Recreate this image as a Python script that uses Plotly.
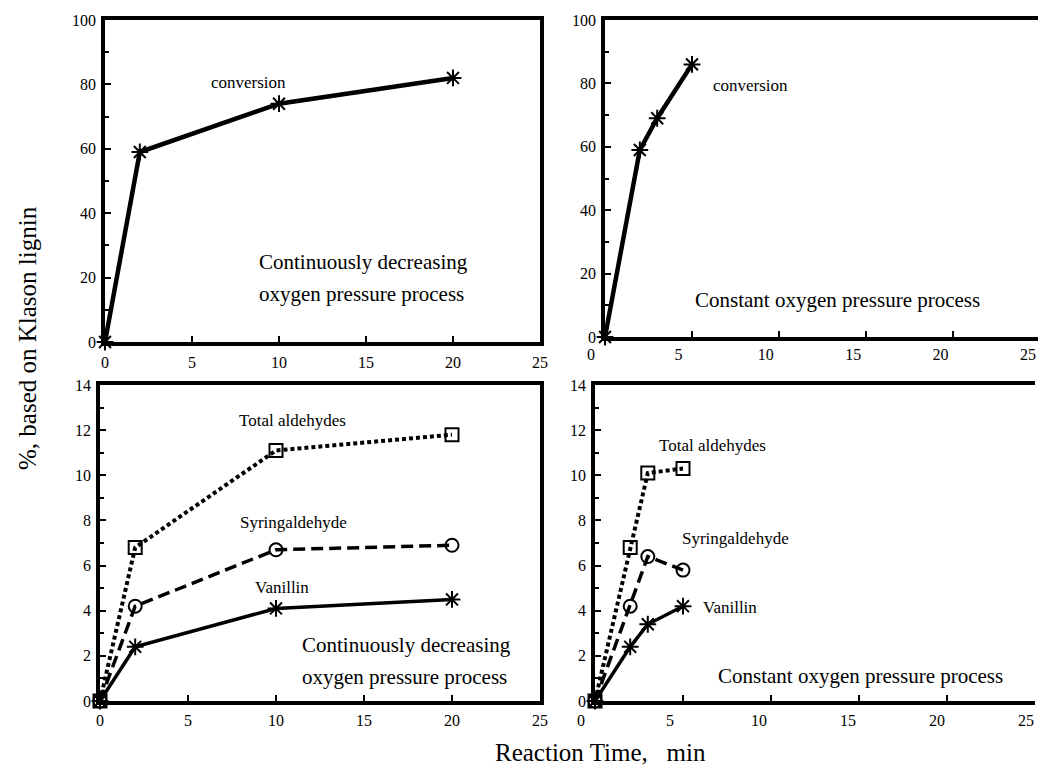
import plotly.graph_objects as go

# ---------------- data ----------------
time_cont = [0, 2, 10, 20]
conv_cont = [0, 59, 74, 82]
time_const = [0, 2, 3, 5]
conv_const = [0, 59, 69, 86]

total_cont = [0, 6.8, 11.1, 11.8]
syring_cont = [0, 4.2, 6.7, 6.9]
vanil_cont = [0, 2.4, 4.1, 4.5]

total_const = [0, 6.8, 10.1, 10.3]
syring_const = [0, 4.2, 6.4, 5.8]
vanil_const = [0, 2.4, 3.4, 4.2]

x_ticks = [0, 5, 10, 15, 20, 25]
y_ticks_top = [0, 20, 40, 60, 80, 100]
y_ticks_bot = [0, 2, 4, 6, 8, 10, 12, 14]

# ---------------- layout helpers ----------------
W, H = 1038, 779
FONT = "Liberation Serif"
BLACK = "black"


def fx(p):
    return min(max(p / W, 0.0), 1.0)


def fy(p):
    return min(max(1 - p / H, 0.0), 1.0)


def px_x(a, b):
    return [fx(a), fx(b)]


def px_y(top, bottom):
    return [fy(bottom), fy(top)]


fig = go.Figure()


def add_line(x, y, xa, ya, dash, symbol, width=3.5, msize=13, mline=2):
    fig.add_trace(go.Scatter(
        x=x, y=y, xaxis=xa, yaxis=ya, mode="lines+markers",
        line=dict(color=BLACK, width=width, dash=dash),
        marker=dict(symbol=symbol, size=msize, color=BLACK,
                    line=dict(color=BLACK, width=mline)),
        cliponaxis=False, showlegend=False, hoverinfo="skip"))


DOT = "4px,3px"
DASH = "12px,6px"

# top-left
add_line(time_cont, conv_cont, "x", "y", "solid", "asterisk-open", width=4.5, msize=14)
# top-right
add_line(time_const, conv_const, "x2", "y2", "solid", "asterisk-open", width=4.5, msize=14)
# bottom-left
add_line(time_cont, vanil_cont, "x3", "y3", "solid", "asterisk-open", msize=14)
add_line(time_cont, syring_cont, "x3", "y3", DASH, "circle-open", msize=13)
add_line(time_cont, total_cont, "x3", "y3", DOT, "square-open", width=4, msize=13)
# bottom-right
add_line(time_const, vanil_const, "x4", "y4", "solid", "asterisk-open", msize=14)
add_line(time_const, syring_const, "x4", "y4", DASH, "circle-open", msize=13)
add_line(time_const, total_const, "x4", "y4", DOT, "square-open", width=4, msize=13)

# empty traces that carry the (slightly offset) tick-label axes of the right panels
fig.add_trace(go.Scatter(x=[], y=[], xaxis="x5", yaxis="y2", showlegend=False))
fig.add_trace(go.Scatter(x=[], y=[], xaxis="x6", yaxis="y4", showlegend=False))

tickfont = dict(family=FONT, size=16, color=BLACK)


def xaxis(a, b, anchor, labels=True, mirror=True, standoff=3):
    # x=0 sits at page pixel a, x=25 at page pixel b (the domain is cut at the page edge)
    end = min(b, W)
    rng_max = 25 * (end - a) / (b - a)
    return dict(domain=px_x(a, end), anchor=anchor, range=[0, rng_max], tickvals=x_ticks,
                showticklabels=labels, ticks="inside", ticklen=6, tickwidth=1.5,
                tickcolor=BLACK, showline=True, linewidth=3.5, linecolor=BLACK,
                mirror=mirror, showgrid=False, zeroline=False, tickfont=tickfont,
                ticklabelstandoff=standoff, automargin=False, fixedrange=True)


def yaxis(domain, anchor, rng, ticks, minor_step, mirror=True):
    return dict(domain=domain, anchor=anchor, range=rng, tickvals=ticks,
                ticks="inside", ticklen=6, tickwidth=1.5, tickcolor=BLACK,
                minor=dict(dtick=minor_step, ticks="inside", ticklen=4,
                           tickcolor=BLACK, tickwidth=1.5, showgrid=False),
                showline=True, linewidth=3.5, linecolor=BLACK, mirror=mirror,
                showgrid=False, zeroline=False, tickfont=tickfont,
                ticklabelstandoff=2, automargin=False, fixedrange=True)


def label_axis(a, b, anchor, standoff):
    return dict(domain=px_x(a, b), anchor=anchor, range=[0, 25],
                tickvals=x_ticks, showline=False, ticks="", showgrid=False,
                zeroline=False, tickfont=tickfont, fixedrange=True,
                ticklabelstandoff=standoff, ticklabeloverflow="allow",
                automargin=False)


fig.update_layout(
    template="none",
    width=W, height=H, autosize=False,
    margin=dict(l=0, r=0, t=0, b=0, pad=0),
    paper_bgcolor="white", plot_bgcolor="rgba(0,0,0,0)",
    font=dict(family=FONT, color=BLACK),
    xaxis=xaxis(105, 540, "y"),
    yaxis=yaxis(px_y(20, 342), "x", [0, 100], y_ticks_top, 10),
    xaxis2=xaxis(605, 1040, "y2", labels=False),
    yaxis2=yaxis(px_y(20, 337), "x2", [0, 100], y_ticks_top, 10, mirror=False),
    xaxis3=xaxis(100, 540, "y3", standoff=2),
    yaxis3=yaxis(px_y(385, 701), "x3", [0, 14], y_ticks_bot, 1),
    xaxis4=xaxis(595, 1035, "y4", labels=False),
    yaxis4=yaxis(px_y(385, 701), "x4", [0, 14], y_ticks_bot, 1, mirror=False),
    xaxis5=label_axis(591, 1028, "y2", 6),
    xaxis6=label_axis(581, 1026, "y4", 8),
)


def note(text, x, y, size, xanchor="center"):
    fig.add_annotation(text=text, x=fx(x), y=fy(y), xref="paper", yref="paper",
                       xanchor=xanchor, yanchor="middle", align="left",
                       showarrow=False, font=dict(family=FONT, size=size, color=BLACK))


# top-left
note("conversion", 248, 82, 17)
note("Continuously decreasing", 257, 262, 21, xanchor="left")
note("oxygen pressure process", 257, 294, 21, xanchor="left")
# top-right
note("conversion", 750, 85, 17)
note("Constant oxygen pressure process", 837, 300, 21)
# bottom-left
note("Total aldehydes", 292, 420, 17)
note("Syringaldehyde", 293, 522, 17)
note("Vanillin", 282, 587, 17)
note("Continuously decreasing", 300, 645, 21, xanchor="left")
note("oxygen pressure process", 300, 677, 21, xanchor="left")
# bottom-right
note("Total aldehydes", 712, 445, 17)
note("Syringaldehyde", 735, 538, 17)
note("Vanillin", 730, 607, 17)
note("Constant oxygen pressure process", 860, 676, 21)

# axis titles
note("Reaction Time,&nbsp;&nbsp;&nbsp;min", 600, 752, 25)
fig.add_annotation(text="%, based on Klason lignin", x=fx(27), y=fy(338),
                   xref="paper", yref="paper", textangle=-90, showarrow=False,
                   xanchor="center", yanchor="middle",
                   font=dict(family=FONT, size=25, color=BLACK))

# let the figure fill the window exactly (no default body margin / scrollbars)
PAGE_JS = ("document.body.style.margin='0';"
           "document.body.style.overflow='hidden';"
           "document.documentElement.style.overflow='hidden';")

fig.write_html("out.html", post_script=PAGE_JS, config={"displayModeBar": False})
